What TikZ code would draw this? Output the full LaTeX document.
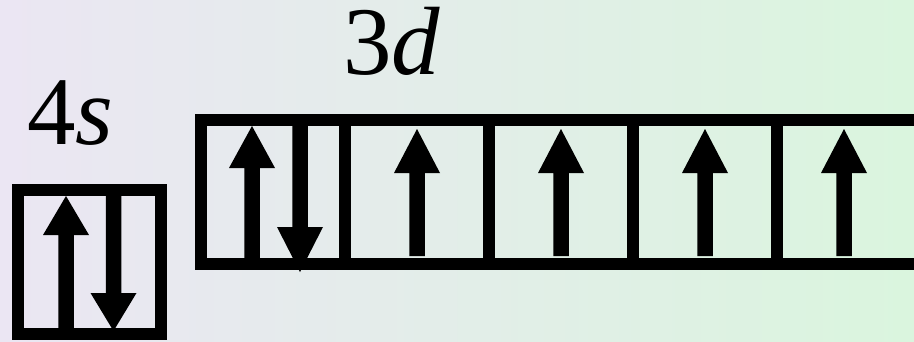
\documentclass[tikz,border=0pt]{standalone}
\usepackage{fontspec}
\setmainfont{Liberation Serif}
\definecolor{bgleft}{RGB}{235,230,243}
\definecolor{bgright}{RGB}{218,245,222}
\tikzset{
  orbital/.style={draw=black, line width=12pt, rectangle, inner sep=0pt, outer sep=0pt, minimum width=144pt, minimum height=144pt},
  lbl/.style={inner sep=0pt, anchor=base west, font=\fontsize{97}{100}\selectfont, text height=0.69em, text depth=0pt},
  spin/.style={fill=black}
}
% up arrow: x, tip y, head base y, bottom y
\newcommand\spinup[4]{\fill[spin] (#1-7.75,#4) -- (#1-7.75,#3) -- (#1-23,#3) -- (#1,#2) -- (#1+23,#3) -- (#1+7.75,#3) -- (#1+7.75,#4) -- cycle;}
% down arrow: x, top y, head base y, tip y
\newcommand\spindown[4]{\fill[spin] (#1-7.75,#2) -- (#1-7.75,#3) -- (#1-23,#3) -- (#1,#4) -- (#1+23,#3) -- (#1+7.75,#3) -- (#1+7.75,#2) -- cycle;}
\begin{document}
\begin{tikzpicture}[x=1pt,y=-1pt]
\useasboundingbox (0,0) rectangle (914,341);
\shade[left color=bgleft, right color=bgright] (0,0) rectangle (914,341);
\clip (0,0) rectangle (914,341);
% labels
\node[lbl] (l4s) at (27,144) {4\textit{s}};
\node[lbl] (l3d) at (343,74) {3\textit{d}};
% 4s orbital
\node[orbital, minimum width=143.5pt] (s1) at (89.25,262) {};
% 3d orbitals
\node[orbital] (d1) at (273,192) {};
\node[orbital] (d2) at (417,192) {};
\node[orbital] (d3) at (561,192) {};
\node[orbital] (d4) at (705,192) {};
\node[orbital] (d5) at (849,192) {};
% electrons
\spinup{66}{196}{235}{334}
\spindown{113.5}{190}{293}{331}
\spinup{252}{126}{168}{264}
\spindown{300}{120}{227}{272}
\spinup{417}{129}{173}{256}
\spinup{561}{129}{173}{256}
\spinup{705}{129}{173}{256}
\spinup{844}{129}{173}{256}
\end{tikzpicture}
\end{document}
